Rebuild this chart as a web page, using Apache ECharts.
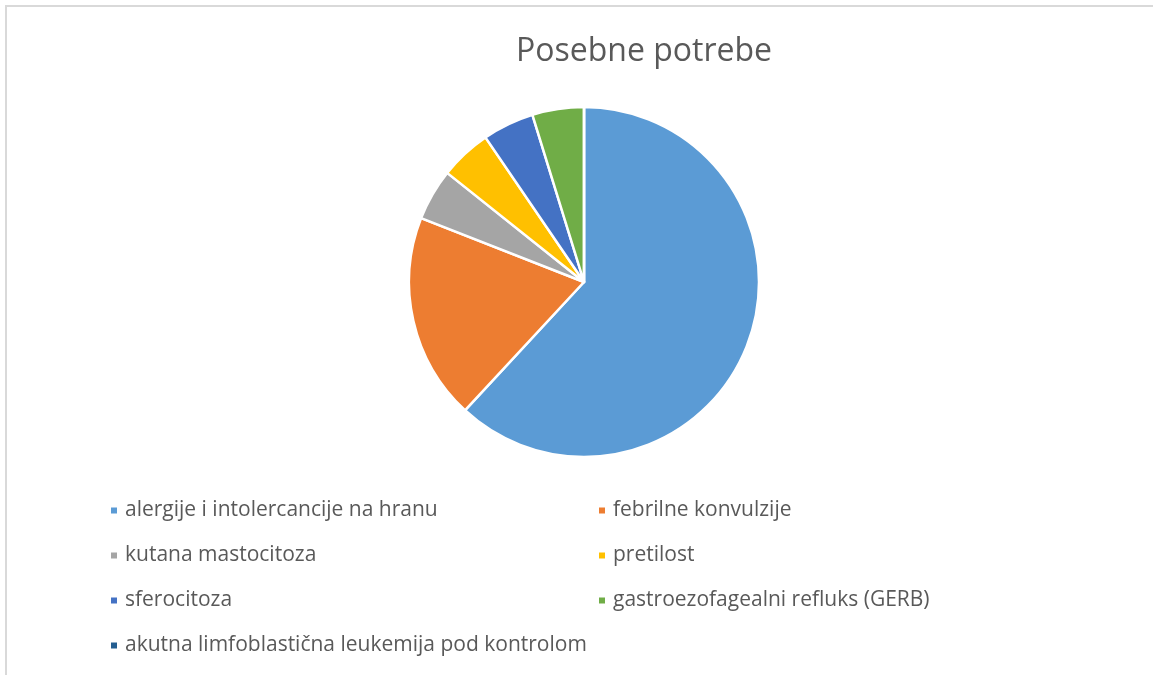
<!DOCTYPE html>
<html>
<head>
<meta charset="utf-8">
<script src="https://cdn.jsdelivr.net/npm/echarts@6/dist/echarts.min.js"></script>
<style>
  html, body { margin: 0; padding: 0; background: #fff; }
  #main { width: 1153px; height: 675px; }
</style>
</head>
<body>
<div id="main"></div>
<script>
// podaci
var categories = [
    'alergije i intolercancije na hranu',
    'febrilne konvulzije',
    'kutana mastocitoza',
    'pretilost',
    'sferocitoza',
    'gastroezofagealni refluks (GERB)',
    'akutna limfoblastična leukemija pod kontrolom'
];
var values = [13, 4, 1, 1, 1, 1, 0];
var colors = ['#5b9bd5', '#ed7d31', '#a5a5a5', '#ffc000', '#4472c4', '#70ad47', '#255e91'];

var leftLegend = [categories[0], categories[2], categories[4], categories[6]];
var rightLegend = [categories[1], categories[3], categories[5]];

var pieData = categories.map(function (name, i) {
    return { name: name, value: values[i] };
});

var legendText = {
    fontFamily: 'Open Sans',
    fontSize: 21,
    lineHeight: 45,
    color: '#595959',
    padding: [0, 0, 0, 2]
};

var myChart = echarts.init(document.getElementById('main'));
myChart.setOption({
    color: colors,
    title: {
        text: 'Posebne potrebe',
        left: 511,
        top: 31,
        textStyle: {
            fontFamily: 'Open Sans',
            fontSize: 32,
            fontWeight: 'normal',
            color: '#595959'
        }
    },
    graphic: [{
        type: 'rect',
        shape: { x: 6, y: 6, width: 1300, height: 800 },
        style: { fill: 'none', stroke: '#d9d9d9', lineWidth: 2 },
        silent: true
    }],
    legend: [
        {
            data: leftLegend,
            orient: 'vertical',
            left: 104,
            top: 483,
            padding: 5,
            icon: 'rect',
            itemWidth: 8,
            itemHeight: 8,
            itemGap: 0,
            textStyle: legendText,
            selectedMode: false
        },
        {
            data: rightLegend,
            orient: 'vertical',
            left: 592,
            top: 483,
            padding: 5,
            icon: 'rect',
            itemWidth: 8,
            itemHeight: 8,
            itemGap: 0,
            textStyle: legendText,
            selectedMode: false
        }
    ],
    series: [{
        type: 'pie',
        center: [584, 282],
        radius: 175,
        startAngle: 90,
        clockwise: true,
        silent: true,
        label: { show: false },
        labelLine: { show: false },
        itemStyle: { borderColor: '#fff', borderWidth: 2.5 },
        data: pieData
    }]
});
</script>
</body>
</html>
